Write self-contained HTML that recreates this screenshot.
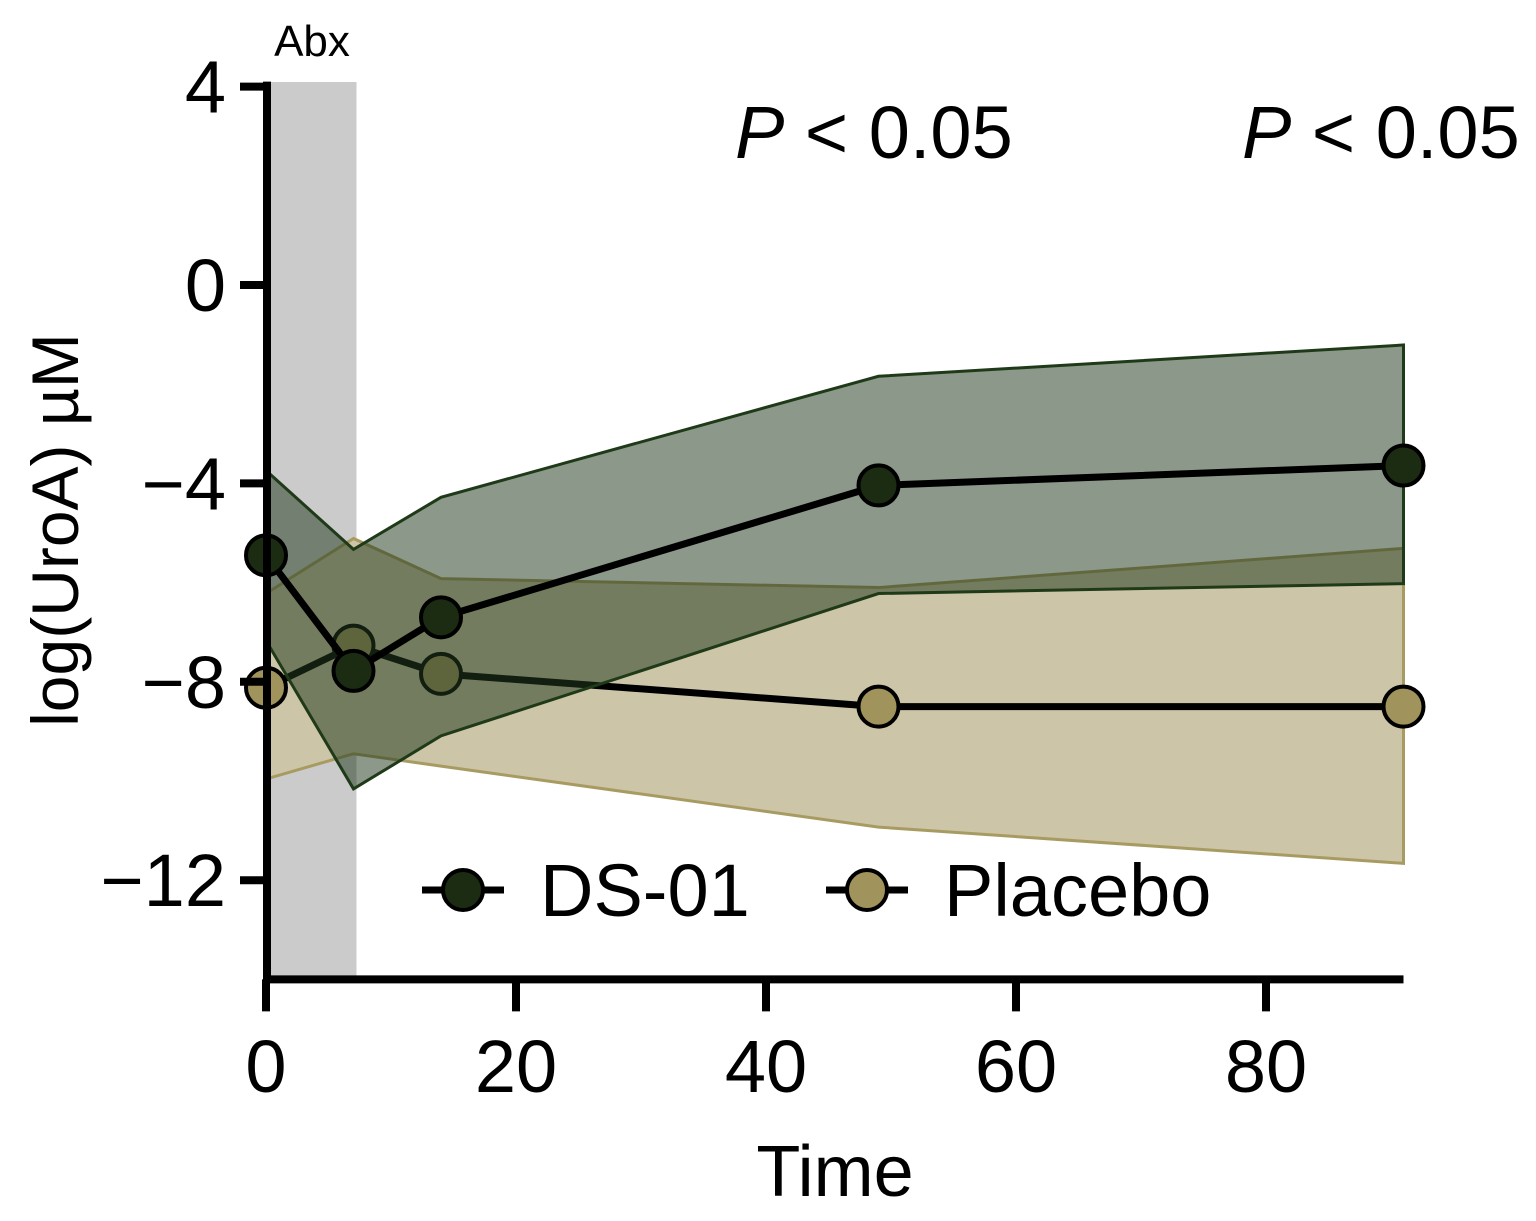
<!DOCTYPE html>
<html><head><meta charset="utf-8"><style>
body{margin:0;background:#fff}
svg text{font-family:"Liberation Sans",sans-serif}
</style></head><body>
<svg id="chart" width="1536" height="1216" viewBox="0 0 1536 1216" xmlns="http://www.w3.org/2000/svg">
<g id="root"></g>
</svg>
<script>
const times=[0,7,14,49,91];
const dsMean=[-5.45,-7.78,-6.7,-4.04,-3.64];
const dsUpper=[-3.74,-5.33,-4.28,-1.84,-1.21];
const dsLower=[-7.17,-10.16,-9.09,-6.22,-6.02];
const plMean=[-8.12,-7.27,-7.84,-8.5,-8.5];
const plUpper=[-6.22,-5.11,-5.92,-6.1,-5.31];
const plLower=[-9.96,-9.45,-9.7,-10.93,-11.66];
const xTicks=[0,20,40,60,80];
const yTicks=[4,0,-4,-8,-12];
const yTickLabels=["4","0","\u22124","\u22128","\u221212"];

const NS="http://www.w3.org/2000/svg";
const root=document.getElementById('root');
const X=v=>266+v*12.5;
const Y=v=>285-v*49.6;
function mk(tag,attrs,parent){const e=document.createElementNS(NS,tag);for(const k in attrs)e.setAttribute(k,attrs[k]);(parent||root).appendChild(e);return e;}

let e=mk('rect',{x:X(0),y:82,width:X(7)-X(0)+3,height:Y(-14)-82,fill:'#cbcbcb'});


e=mk('text',{x:312,y:56,'font-size':44,'text-anchor':'middle'});e.textContent='Abx';



function band(up,lo,fill,op,stroke,name){
  let d='';times.forEach((t,i)=>d+=(i?'L':'M')+X(t)+','+Y(up[i]));
  for(let i=times.length-1;i>=0;i--)d+='L'+X(times[i])+','+Y(lo[i]);
  const p=mk('path',{d:d+'Z',fill:fill,'fill-opacity':op,stroke:stroke,'stroke-width':3});
  
  
}
function series(m,fill,name){
  let d='';times.forEach((t,i)=>d+=(i?'L':'M')+X(t)+','+Y(m[i]));
  const p=mk('path',{d:d,fill:'none',stroke:'#000','stroke-width':7});
  
  
  times.forEach((t,i)=>{const c=mk('circle',{cx:X(t),cy:Y(m[i]),r:20,fill:fill,stroke:'#000','stroke-width':4});
    
    });
}
band(plUpper,plLower,'#cdc5a7',1,'#a89b62','placebo-band');
series(plMean,'#a0935c','placebo');
band(dsUpper,dsLower,'#233a1c',0.52,'#1f3a18','ds01-band');
series(dsMean,'#1c2c12','ds01');

e=mk('path',{d:`M${X(0)+1},${Y(4)-5}V${Y(-14)}H${X(91)}`,fill:'none',stroke:'#000','stroke-width':8});


yTicks.forEach((v,i)=>{
  mk('line',{x1:X(0)-26,x2:X(0),y1:Y(v),y2:Y(v),stroke:'#000','stroke-width':8});
  const t=mk('text',{x:X(0)-40,y:Y(v)+26,'font-size':74,'text-anchor':'end'});t.textContent=yTickLabels[i];
  
  
});
xTicks.forEach(v=>{
  mk('line',{x1:X(v),x2:X(v),y1:Y(-14),y2:Y(-14)+32,stroke:'#000','stroke-width':8});
  const t=mk('text',{x:X(v),y:1092,'font-size':74,'text-anchor':'middle'});t.textContent=v;
  
  
});
e=mk('text',{x:835,y:1196,'font-size':72,'text-anchor':'middle'});e.textContent='Time';


e=mk('text',{x:78,y:530,'font-size':66,'text-anchor':'middle',transform:'rotate(-90 78 530)'});e.textContent='log(UroA) \u00b5M';


[[735,'p-value-1'],[1242,'p-value-2']].forEach(([x,n])=>{
  const t=mk('text',{x:x,y:158,'font-size':74});
  t.innerHTML='<tspan font-style="italic">P</tspan> &lt; 0.05';
  
  
});
[[422,463,'#1c2c12','DS-01','legend-ds01'],[826,867,'#a0935c','Placebo','legend-placebo']].forEach(([x,cx,f,l,n])=>{
  const g=mk('g',{});
  
  
  mk('line',{x1:x,x2:x+82,y1:890,y2:890,stroke:'#000','stroke-width':7},g);
  mk('circle',{cx:cx,cy:890,r:20,fill:f,stroke:'#000','stroke-width':4},g);
  const t=mk('text',{x:x+118,y:916,'font-size':74},g);t.textContent=l;
});
</script>
</body></html>
